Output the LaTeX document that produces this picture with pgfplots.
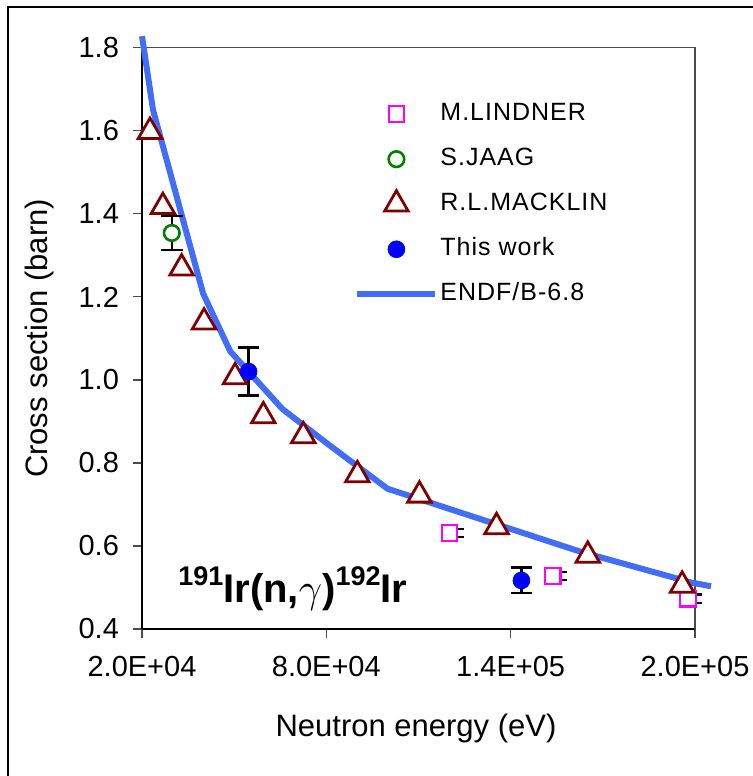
\documentclass[border=0pt]{standalone}
\usepackage{fontspec}
\setmainfont{Liberation Sans}
\usepackage{pgfplots}
\pgfplotsset{compat=1.18}
\definecolor{endfblue}{RGB}{65,110,245}
\definecolor{macklin}{RGB}{128,0,0}
\definecolor{lindner}{RGB}{255,0,255}
\definecolor{jaag}{RGB}{0,128,0}
\definecolor{thiswork}{RGB}{0,0,255}
\begin{document}
\begin{tikzpicture}
\useasboundingbox (-71pt,-73.5pt) rectangle (305pt,314.5pt);
\draw[line width=0.8pt] (-67pt,-80pt) -- (-67pt,311pt) -- (310pt,311pt);
\begin{axis}[
 width=276.5pt,height=290.6pt,scale only axis,
 xmin=20000,xmax=200000,ymin=0.4,ymax=1.8,
 axis x line*=bottom,axis y line*=left,
 axis line style={black,line width=0.8pt,-},
 tick align=outside,major tick length=4.5pt,
 tick style={gray!60!black,line width=0.6pt},
 xtick={20000,80000,140000,200000},
 xticklabels={2.0E+04,8.0E+04,1.4E+05,2.0E+05},
 scaled x ticks=false,
 ytick={0.4,0.6,0.8,1.0,1.2,1.4,1.6,1.8},
 yticklabel style={xshift=-3.5pt,/pgf/number format/.cd,fixed,fixed zerofill,precision=1},
 xticklabel style={yshift=-5.5pt},
 /pgf/number format/assume math mode=true,
 ticklabel style={font=\fontsize{14.5}{16}\selectfont},
 label style={font=\fontsize{15.5}{17}\selectfont},
 xlabel={Neutron energy (eV)},
 ylabel={Cross section (barn)},
 xlabel style={at={(axis description cs:0.4955,-0.172)},anchor=center},
 ylabel style={at={(axis description cs:-0.1845,0.5)},anchor=center},
 clip=false,
 legend image code/.code={\draw[mark repeat=2,mark phase=2,#1] plot coordinates {(0pt,0pt) (19.5pt,0pt) (39pt,0pt)};},
 legend cell align=left,
 legend style={draw=none,fill=none,inner sep=0pt,row sep=9pt,
   font=\fontsize{12.5}{14}\selectfont\addfontfeatures{LetterSpace=4},
   nodes={inner sep=1pt,text height=9pt,text depth=2.5pt},
   at={(axis description cs:0.3834,0.9097)},anchor=north west},
]
\draw[gray!60!black,line width=0.6pt] (rel axis cs:0,1) -- (rel axis cs:1,1) -- (rel axis cs:1,0);

% ENDF/B-6.8 evaluation
\addplot[forget plot,endfblue,line width=3pt,line join=round] coordinates {
 (20000,1.828) (23600,1.650) (39900,1.208) (48700,1.069) (65700,0.930)
 (81300,0.841) (99900,0.738) (162800,0.586) (195400,0.519) (198700,0.512) (205200,0.503)};

% M.LINDNER
\addplot[only marks,mark=square*,mark size=3.9pt,
  mark options={draw=lindner,fill=white,line width=1.1pt},
  error bars/.cd,y dir=both,y explicit,error mark=|,
  error bar style={black,line width=1.2pt,xshift=1.7pt},
  error mark options={black,line width=1.2pt,mark size=5.4pt}]
 coordinates {(120100,0.631) +- (0,0.01) (153700,0.528) +- (0,0.01) (197700,0.473) +- (0,0.01)};
\addlegendentry{M.LINDNER}

% S.JAAG
\addplot[only marks,mark=*,mark size=3.9pt,
  mark options={draw=jaag,fill=white,line width=1.3pt},
  error bars/.cd,y dir=both,y explicit,error mark=|,
  error bar style={black,line width=1.2pt},
  error mark options={black,line width=1.2pt,mark size=5.4pt}]
 coordinates {(29700,1.354) +- (0,0.041)};
\addlegendentry{S.JAAG}

% R.L.MACKLIN
\addplot[only marks,mark=triangle*,mark size=6.8pt,
  mark options={draw=macklin,fill=white,line width=1.4pt}]
 coordinates {(22600,1.598) (26800,1.417) (32900,1.269) (40200,1.139) (50300,1.007)
 (59500,0.913) (72500,0.865) (90100,0.771) (110300,0.722) (135400,0.646)
 (165100,0.577) (195800,0.505)};
\addlegendentry{R.L.MACKLIN}

% This work
\addplot[only marks,mark=*,mark size=4.2pt,
  mark options={draw=thiswork,fill=thiswork},
  error bars/.cd,y dir=both,y explicit,error mark=|,
  error bar style={black,line width=1.2pt},
  error mark options={black,line width=1.2pt,mark size=5.4pt}]
 coordinates {(54700,1.020) +- (0,0.058) (143500,0.517) +- (0,0.031)};
\addlegendentry{This work}

\addlegendimage{endfblue,line width=3pt}
\addlegendentry{ENDF/B-6.8}

\node[anchor=base west,font=\fontsize{20}{22}\selectfont\bfseries,inner sep=0pt]
 at (axis cs:31700,0.464)
 {\raisebox{0.42em}{\fontsize{13.5}{14}\selectfont 191}Ir(n,$\gamma$)\raisebox{0.42em}{\fontsize{13.5}{14}\selectfont 192}Ir};
\end{axis}
\end{tikzpicture}
\end{document}
